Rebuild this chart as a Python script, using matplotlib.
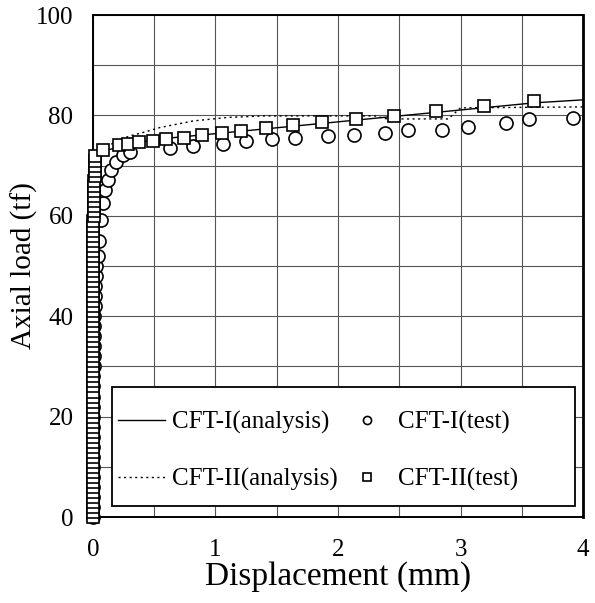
import matplotlib
matplotlib.use('Agg')
from matplotlib import pyplot as plt
from matplotlib.patches import Rectangle

plt.rcParams['font.family'] = ['Liberation Serif', 'DejaVu Serif']

# CFT-I analysis (solid)
an1_disp = [0.0, 0.005, 0.01, 0.02, 0.03, 0.05, 0.1, 0.2, 0.5, 1.4, 2.5, 3.6, 4.0]
an1_load = [0.0, 20.0, 40.0, 60.0, 68.0, 71.5, 73.0, 73.6, 75.2, 77.3, 79.9, 82.5, 83.1]

# CFT-II analysis (dotted)
an2_disp = [0.0, 0.005, 0.01, 0.02, 0.04, 0.1, 0.2, 0.3, 0.41, 0.55, 0.82, 1.1, 1.4,
            2.3, 2.4, 2.9, 3.0, 4.0]
an2_load = [0.0, 20.0, 40.0, 62.0, 70.0, 73.5, 75.0, 75.9, 76.6, 77.6, 78.9, 79.6, 79.9,
            79.9, 79.3, 79.3, 81.5, 81.7]

# CFT-I test (circles)
t1_disp = [0.0, 0.0, 0.0, 0.0, 0.0, 0.0, 0.0, 0.0, 0.0, 0.0, 0.0, 0.0, 0.0, 0.0, 0.0,
           0.01, 0.01, 0.01, 0.01, 0.01, 0.01, 0.02, 0.02, 0.02, 0.03, 0.03, 0.04, 0.05,
           0.07, 0.085, 0.1, 0.125, 0.15, 0.19, 0.25, 0.3,
           0.63, 0.82, 1.06, 1.25, 1.46, 1.65, 1.92, 2.13, 2.38, 2.57, 2.85, 3.06, 3.37,
           3.56, 3.92]
t1_load = [0, 2, 4, 6, 8, 10, 12, 14, 16, 18, 20, 22, 24, 26, 28,
           30, 32, 34, 36, 38, 40, 42, 44, 46, 48, 50, 52, 55,
           59.2, 62.5, 65.1, 67.1, 69.1, 70.8, 72.1, 72.8,
           73.5, 74.0, 74.4, 74.9, 75.3, 75.6, 75.8, 76.0, 76.4, 77.0, 77.0, 77.7, 78.4,
           79.2, 79.4]

# CFT-II test (squares)
t2_load = [0, 1, 2, 3, 4, 5, 6, 7, 8, 9, 10, 11, 12, 13, 14, 15, 16, 17, 18, 19,
           20, 21, 22, 23, 24, 25, 26, 27, 28, 29, 30, 31, 32, 33, 34, 35, 36, 37, 38, 39,
           40, 41, 42, 43, 44, 45, 46, 47, 48, 49, 50, 51, 52, 53, 54, 55, 56, 57, 58, 59,
           60, 61, 62, 63, 64, 65, 66, 67, 68, 69, 70, 71, 72,
           73.1, 74.1, 74.4, 74.8, 75.0, 75.3, 75.6, 76.1, 76.4, 76.8, 77.4, 78.1, 78.6,
           79.3, 79.9, 80.9, 81.8, 82.8]
t2_disp = [0.0] * 40 + [0.005] * 20 + [0.01] * 8 + [0.02] * 5 + \
          [0.085, 0.21, 0.29, 0.38, 0.49, 0.60, 0.74, 0.89, 1.05, 1.21, 1.41, 1.63, 1.87,
           2.15, 2.46, 2.80, 3.19, 3.60]

fig = plt.figure(figsize=(5.95, 6.03), dpi=100)
ax = fig.add_axes([0.156, 0.1426, 0.824, 0.8325])

ax.plot(an1_disp, an1_load, color='black', lw=1.0, label='CFT-I(analysis)', zorder=3)
ax.plot(an2_disp, an2_load, color='black', lw=1.0, ls=(0, (1.5, 2.5)),
        label='CFT-II(analysis)', zorder=3)
ax.plot(t1_disp, t1_load, ls='none', marker='o', ms=9.4, mfc='white', mec='black',
        mew=1.2, label='CFT-I(test)', zorder=4, clip_on=False)
ax.plot(t2_disp, t2_load, ls='none', marker='s', ms=9.2, mfc='white', mec='black',
        mew=1.2, label='CFT-II(test)', zorder=5, clip_on=False)

ax.set_xlim(0, 4)
ax.set_ylim(0, 100)
ax.set_xticks([0, 1, 2, 3, 4])
ax.set_xticks([0.5, 1.5, 2.5, 3.5], minor=True)
ax.set_yticks(range(0, 101, 20))
ax.set_yticks(range(10, 100, 20), minor=True)
ax.grid(True, which='both', color='#555555', lw=0.8)
ax.set_axisbelow(True)
ax.tick_params(which='both', length=0, labelsize=18)
ax.tick_params(axis='x', pad=16)
ax.tick_params(axis='y', pad=14)
for s in ax.spines.values():
    s.set_linewidth(1.4)
ax.spines['right'].set_linewidth(2.0)

ax.set_xlabel('Displacement (mm)', fontsize=24)
ax.xaxis.set_label_coords(0.5, -0.088)
ax.set_ylabel('Axial load (tf)', fontsize=21)
ax.yaxis.set_label_coords(-0.112, 0.5)

# legend box drawn separately so the entries keep their spacing
box = Rectangle((0.039, 0.022), 0.945, 0.2376, transform=ax.transAxes, fc='white',
                ec='black', lw=1.3, zorder=8, clip_on=False)
ax.add_patch(box)

h, l = ax.get_legend_handles_labels()
leg = ax.legend(h, l, ncol=2, loc='center left', bbox_to_anchor=(0.051, 0.1315),
                borderaxespad=0, borderpad=0, fontsize=18, frameon=False,
                handlelength=1.9, handletextpad=0.28, labelspacing=1.35,
                markerscale=0.62, columnspacing=0.2)
leg.set_zorder(10)

fig.savefig('out.png', dpi=100)
